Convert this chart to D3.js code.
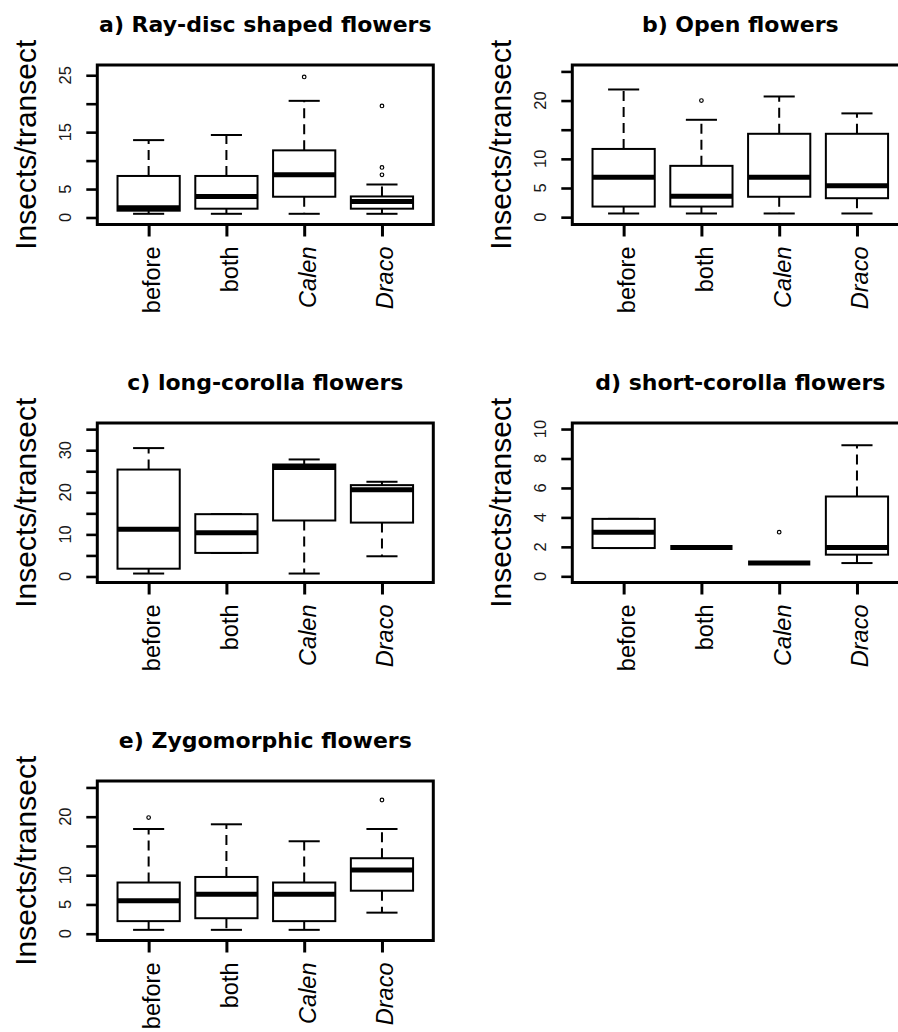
<!DOCTYPE html>
<html>
<head>
<meta charset="utf-8">
<script src="https://cdn.jsdelivr.net/npm/d3@7"></script>
<style>
  html, body { margin: 0; padding: 0; background: #fff; }
  svg { display: block; }
  text { font-family: "Liberation Sans", Arial, sans-serif; fill: #000; }
</style>
</head>
<body>
<svg id="chart" width="898" height="1032"></svg>
<script>
// Visit groups shared by every panel
const categories = ["before", "both", "Calen", "Draco"];
const italicCategories = ["Calen", "Draco"];

// Box statistics per group: [lower whisker, lower hinge, median, upper hinge, upper whisker]
const rayDiscStats = [
  [0.65, 1.2, 1.7, 7.3, 13.6],
  [0.65, 1.55, 3.7, 7.3, 14.5],
  [0.65, 3.65, 7.5, 11.8, 20.5],
  [0.65, 1.55, 2.8, 3.7, 5.8]
];
const rayDiscOutliers = [[], [], [24.7], [19.6, 8.8, 7.5]];

const openStats = [
  [0.63, 1.82, 6.85, 11.7, 21.9],
  [0.63, 1.82, 3.6, 8.8, 16.7],
  [0.63, 3.5, 6.85, 14.3, 20.7],
  [0.63, 3.25, 5.4, 14.3, 17.8]
];
const openOutliers = [[], [20.0], [], []];

const longCorollaStats = [
  [0.7, 1.85, 11.2, 25.4, 30.5],
  [5.6, 5.6, 10.4, 14.8, 14.8],
  [0.7, 13.3, 25.9, 26.6, 27.8],
  [4.8, 12.8, 20.6, 21.7, 22.5]
];
const longCorollaOutliers = [[], [], [], []];

const shortCorollaStats = [
  [1.92, 1.92, 3.0, 3.9, 3.9],
  [1.96, 1.96, 1.96, 1.96, 1.96],
  [0.9, 0.9, 0.9, 0.9, 0.9],
  [0.9, 1.47, 1.96, 5.42, 8.9]
];
const shortCorollaOutliers = [[], [], [3.0], []];

const zygomorphicStats = [
  [0.66, 2.15, 5.65, 8.75, 17.9],
  [0.66, 2.65, 6.75, 9.7, 18.7],
  [0.66, 2.15, 6.75, 8.75, 15.8],
  [3.6, 7.35, 10.9, 12.9, 17.9]
];
const zygomorphicOutliers = [[19.85], [], [], [22.85]];

// Axis ticks (every tick is marked; only some carry a label)
const ticksBy5 = [0, 5, 10, 15, 20, 25];
const ticksBy5To35 = [0, 5, 10, 15, 20, 25, 30, 35];
const ticksBy2 = [0, 2, 4, 6, 8, 10];
const rayDiscTickLabels = [0, 5, 15, 25];
const openTickLabels = [0, 5, 10, 20];
const longCorollaTickLabels = [0, 10, 20, 30];
const shortCorollaTickLabels = [0, 2, 4, 6, 8, 10];
const zygomorphicTickLabels = [0, 5, 10, 20];

// Value range covered by each plotting frame
const rayDiscDomain = [-1.23, 26.8];
const openDomain = [-1.26, 26.1];
const longCorollaDomain = [-1.43, 36.46];
const shortCorollaDomain = [-0.42, 10.41];
const zygomorphicDomain = [-1.16, 26.1];

const titles = [
  "a) Ray-disc shaped flowers",
  "b) Open flowers",
  "c) long-corolla flowers",
  "d) short-corolla flowers",
  "e) Zygomorphic flowers"
];
const yAxisTitle = "Insects/transect";

const panels = [
  { title: titles[0], stats: rayDiscStats, outliers: rayDiscOutliers, ticks: ticksBy5, labels: rayDiscTickLabels, domain: rayDiscDomain, left: 97.3, top: 65 },
  { title: titles[1], stats: openStats, outliers: openOutliers, ticks: ticksBy5, labels: openTickLabels, domain: openDomain, left: 572.3, top: 65 },
  { title: titles[2], stats: longCorollaStats, outliers: longCorollaOutliers, ticks: ticksBy5To35, labels: longCorollaTickLabels, domain: longCorollaDomain, left: 97.3, top: 423 },
  { title: titles[3], stats: shortCorollaStats, outliers: shortCorollaOutliers, ticks: ticksBy2, labels: shortCorollaTickLabels, domain: shortCorollaDomain, left: 572.3, top: 423 },
  { title: titles[4], stats: zygomorphicStats, outliers: zygomorphicOutliers, ticks: ticksBy5, labels: zygomorphicTickLabels, domain: zygomorphicDomain, left: 97.3, top: 781 }
];

const frameW = 336, frameH = 159.5;
const svg = d3.select("#chart");

panels.forEach(p => {
  const g = svg.append("g").attr("transform", `translate(${p.left},${p.top})`);

  const x = d3.scaleLinear().domain([0.34, 4.66]).range([0, frameW]);
  const y = d3.scaleLinear().domain(p.domain).range([frameH, 0]);
  const boxHalf = x(1.4) - x(1);
  const capHalf = x(1.2) - x(1);

  // Title centred over the frame
  g.append("text")
    .attr("x", frameW / 2).attr("y", -33)
    .attr("text-anchor", "middle")
    .style("font-family", "'DejaVu Sans', sans-serif")
    .style("font-weight", "bold").style("font-size", "22px")
    .text(p.title);

  // Y axis title
  g.append("text")
    .attr("transform", `translate(-61,${frameH / 2}) rotate(-90)`)
    .attr("text-anchor", "middle")
    .style("font-size", "30px")
    .text(yAxisTitle);

  // Y axis: ticks outside the frame, labels parallel to the axis
  const yAxis = d3.axisLeft(y).tickValues(p.ticks).tickSize(11).tickFormat("");
  const ya = g.append("g").call(yAxis);
  ya.select(".domain").remove();
  ya.selectAll(".tick line").attr("stroke", "#000").attr("stroke-width", 2.6);

  g.selectAll(".ylab")
    .data(p.labels)
    .join("text")
    .attr("class", "ylab")
    .attr("transform", d => `translate(-26.5,${y(d)}) rotate(-90)`)
    .attr("text-anchor", "middle")
    .style("font-size", "16.5px")
    .style("fill", "#1a1a1a")
    .text(d => d);

  // X axis: ticks only, category names rotated
  const xAxis = d3.axisBottom(x).tickValues([1, 2, 3, 4]).tickSize(12).tickFormat("");
  const xa = g.append("g").attr("transform", `translate(0,${frameH})`).call(xAxis);
  xa.select(".domain").remove();
  xa.selectAll(".tick line").attr("stroke", "#000").attr("stroke-width", 3);

  g.selectAll(".xlab")
    .data(categories)
    .join("text")
    .attr("class", "xlab")
    .attr("transform", (d, i) => `translate(${x(i + 1) + 11.5},${frameH + 22}) rotate(-90)`)
    .attr("text-anchor", "end")
    .style("font-size", "23.5px")
    .style("font-style", d => italicCategories.includes(d) ? "italic" : "normal")
    .text(d => d);

  // Boxes
  const groups = g.selectAll(".grp")
    .data(p.stats)
    .join("g")
    .attr("class", "grp");

  // Dashed whiskers
  groups.append("line")
    .attr("x1", (d, i) => x(i + 1)).attr("x2", (d, i) => x(i + 1))
    .attr("y1", d => y(d[3])).attr("y2", d => y(d[4]))
    .attr("stroke", "#000").attr("stroke-width", 2).attr("stroke-dasharray", "10,6");
  groups.append("line")
    .attr("x1", (d, i) => x(i + 1)).attr("x2", (d, i) => x(i + 1))
    .attr("y1", d => y(d[1])).attr("y2", d => y(d[0]))
    .attr("stroke", "#000").attr("stroke-width", 2).attr("stroke-dasharray", "10,6");

  // Whisker caps
  [0, 4].forEach(k => {
    groups.append("line")
      .attr("x1", (d, i) => x(i + 1) - capHalf).attr("x2", (d, i) => x(i + 1) + capHalf)
      .attr("y1", d => y(d[k])).attr("y2", d => y(d[k]))
      .attr("stroke", "#000").attr("stroke-width", 2);
  });

  // Hinge box
  groups.append("rect")
    .attr("x", (d, i) => x(i + 1) - boxHalf)
    .attr("width", boxHalf * 2)
    .attr("y", d => y(d[3]))
    .attr("height", d => Math.max(0, y(d[1]) - y(d[3])))
    .attr("fill", "#fff").attr("stroke", "#000").attr("stroke-width", 2);

  // Median
  groups.append("line")
    .attr("x1", (d, i) => x(i + 1) - boxHalf).attr("x2", (d, i) => x(i + 1) + boxHalf)
    .attr("y1", d => y(d[2])).attr("y2", d => y(d[2]))
    .attr("stroke", "#000").attr("stroke-width", 5);

  // Outliers
  p.outliers.forEach((vals, i) => {
    g.selectAll(null)
      .data(vals)
      .join("circle")
      .attr("cx", x(i + 1)).attr("cy", d => y(d))
      .attr("r", 1.8)
      .attr("fill", "none").attr("stroke", "#000").attr("stroke-width", 1.2);
  });

  // Plot frame
  g.append("rect")
    .attr("x", 0).attr("y", 0).attr("width", frameW).attr("height", frameH)
    .attr("fill", "none").attr("stroke", "#000").attr("stroke-width", 3);
});
</script>
</body>
</html>
